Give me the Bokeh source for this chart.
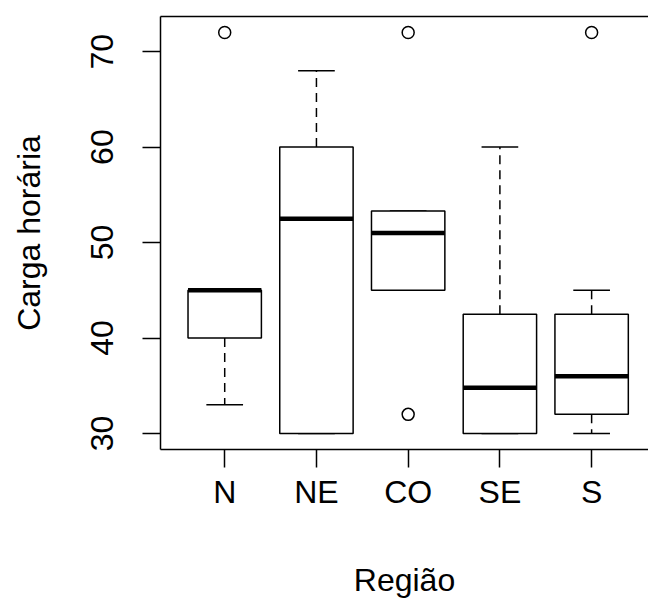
from bokeh.plotting import figure
from bokeh.models import Range1d, FixedTicker, LinearAxis
from bokeh.embed import file_html
from bokeh.resources import INLINE

# ---- data ----
regions = ["N", "NE", "CO", "SE", "S"]
lower_whisker = [33, 30, 45, 30, 30]
q1 = [40, 30, 45, 30, 32]
median = [45, 52.5, 51, 34.8, 36]
q3 = [45, 60, 53.3, 42.5, 42.5]
upper_whisker = [45, 68, 53.3, 60, 45]
outlier_region = ["N", "CO", "CO", "S"]
outlier_value = [72, 72, 32, 72]
y_ticks = [30, 40, 50, 60, 70]
x_title = "Região"
y_title = "Carga horária"

FONT = "Liberation Sans"
FS = "32px"

pos = [regions.index(r) + 1 for r in regions]
out_pos = [regions.index(r) + 1 for r in outlier_region]

box_w = 0.8
staple_half = 0.2

p = figure(width=648, height=600, output_backend="svg", toolbar_location=None,
           x_range=Range1d(0.3, 5.62), y_range=Range1d(28.32, 73.68),
           min_border_left=160, min_border_right=0, min_border_top=16, min_border_bottom=150)
p.outline_line_color = None
p.xgrid.visible = False
p.ygrid.visible = False
p.background_fill_color = "white"
p.border_fill_color = "white"

# whiskers (dashed)
p.segment(x0=pos, y0=q3, x1=pos, y1=upper_whisker, line_color="black", line_width=1.5, line_dash="9 6")
p.segment(x0=pos, y0=q1, x1=pos, y1=lower_whisker, line_color="black", line_width=1.5, line_dash="9 6")
# staples
p.segment(x0=[x - staple_half for x in pos], y0=upper_whisker, x1=[x + staple_half for x in pos], y1=upper_whisker,
          line_color="black", line_width=1.5)
p.segment(x0=[x - staple_half for x in pos], y0=lower_whisker, x1=[x + staple_half for x in pos], y1=lower_whisker,
          line_color="black", line_width=1.5)
# boxes
p.vbar(x=pos, width=box_w, bottom=q1, top=q3, fill_color="white", line_color="black", line_width=1.5)
# medians
p.segment(x0=[x - box_w / 2 for x in pos], y0=median, x1=[x + box_w / 2 for x in pos], y1=median,
          line_color="black", line_width=4.5)
# outliers
p.scatter(x=out_pos, y=outlier_value, marker="circle", size=12, fill_color=None, line_color="black", line_width=1.5)

# axes
for ax in (p.xaxis[0], p.yaxis[0]):
    ax.axis_line_color = "black"
    ax.axis_line_width = 1.5
    ax.major_tick_line_color = "black"
    ax.major_tick_line_width = 1.5
    ax.major_tick_out = 18
    ax.major_tick_in = 0
    ax.minor_tick_line_color = None
    ax.major_label_text_font = FONT
    ax.major_label_text_font_size = FS
    ax.major_label_text_color = "black"
    ax.axis_label_text_font = FONT
    ax.axis_label_text_font_size = FS
    ax.axis_label_text_font_style = "normal"
    ax.axis_label_text_color = "black"

p.xaxis[0].ticker = FixedTicker(ticks=pos)
p.xaxis[0].major_label_overrides = {x: r for x, r in zip(pos, regions)}
p.xaxis[0].major_label_standoff = 6
p.xaxis[0].axis_label = x_title
p.xaxis[0].axis_label_standoff = 49

p.yaxis[0].ticker = FixedTicker(ticks=y_ticks)
p.yaxis[0].major_label_orientation = "vertical"
p.yaxis[0].major_label_standoff = 29
p.yaxis[0].axis_label = y_title
p.yaxis[0].axis_label_standoff = 42

# top border line
top = LinearAxis(ticker=FixedTicker(ticks=[]), major_label_text_font_size="0px",
                 axis_line_color="black", axis_line_width=1.5,
                 major_tick_line_color=None, minor_tick_line_color=None)
p.add_layout(top, "above")

open("out.html", "w").write(file_html(p, INLINE))
